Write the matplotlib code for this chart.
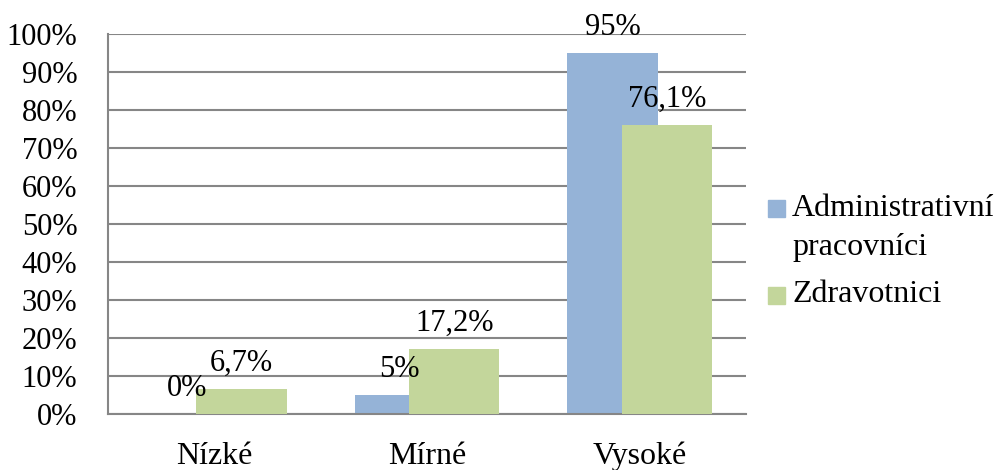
import numpy as np
import matplotlib
matplotlib.use("Agg")
import matplotlib.pyplot as plt
from matplotlib.patches import Rectangle

plt.rcParams['font.family'] = ['Liberation Serif', 'DejaVu Serif']

# Data
categories = ["Nízké", "Mírné", "Vysoké"]
series_names = ["Administrativní\npracovníci", "Zdravotnici"]
admin = [0, 5, 95]
zdrav = [6.7, 17.2, 76.1]
yticks = list(range(0, 101, 10))

blue = "#95B3D7"
green = "#C3D69B"
grid_c = "#868686"
fs = 22
fs_big = 23

fig = plt.figure(figsize=(10, 4.7), dpi=100)
ax = fig.add_axes([0.108, 0.119, 0.638, 0.809])

x = np.arange(len(categories))
w = 0.424
off = 0.128
b1 = ax.bar(x - off, admin, w, color=blue, zorder=2)
b2 = ax.bar(x + off, zdrav, w, color=green, zorder=3)

def lab(v):
    return f"{v:g}".replace(".", ",") + "%"

for bars, vals in [(b1, admin), (b2, zdrav)]:
    for r, v in zip(bars, vals):
        ax.annotate(lab(v), (r.get_x() + r.get_width() / 2, v),
                    xytext=(0, 13), textcoords="offset points",
                    ha="center", va="baseline", fontsize=fs, zorder=5)

ax.set_xlim(-0.5, len(categories) - 0.5)
ax.set_ylim(0, 100)
ax.set_yticks(yticks)
ax.set_yticklabels([f"{t}%" for t in yticks])
ax.set_xticks(x)
ax.set_xticklabels(categories)
ax.tick_params(axis="y", length=0, pad=22, labelsize=fs)
ax.tick_params(axis="x", length=0, pad=20, labelsize=fs_big)
ax.yaxis.grid(True, color=grid_c, linewidth=1.5, zorder=0)
ax.set_axisbelow(True)
for s in ["top", "right"]:
    ax.spines[s].set_visible(False)
for s in ["left", "bottom"]:
    ax.spines[s].set_color(grid_c)
    ax.spines[s].set_linewidth(1.5)

# legend drawn by hand so the swatch lines up with the first text line
names = series_names[0].split("\n")
fig.patches.append(Rectangle((0.768, 1 - 217 / 470), 0.017, 17 / 470,
                             transform=fig.transFigure, color=blue))
fig.text(0.792, 1 - 209 / 470, names[0], fontsize=fs_big, va="center")
fig.text(0.792, 1 - 248 / 470, names[1], fontsize=fs_big, va="center")
fig.patches.append(Rectangle((0.768, 1 - 304 / 470), 0.017, 17 / 470,
                             transform=fig.transFigure, color=green))
fig.text(0.792, 1 - 295 / 470, series_names[1], fontsize=fs_big, va="center")

fig.savefig("out.png", dpi=100)
